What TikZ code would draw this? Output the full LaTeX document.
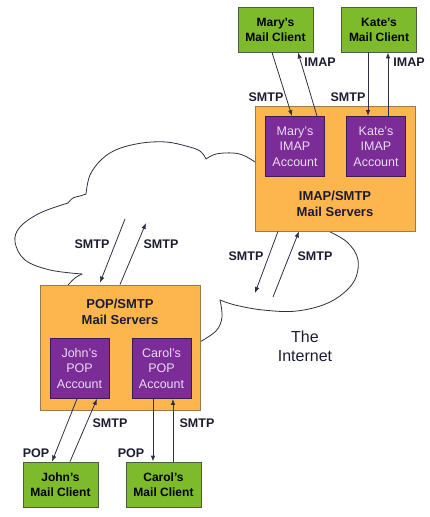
\documentclass[tikz,border=0pt]{standalone}
\usepackage{fontspec}
\setmainfont{Liberation Sans}
\usetikzlibrary{arrows.meta,calc}
\definecolor{cgreen}{HTML}{7DBA2C}
\definecolor{cgreenb}{HTML}{4E5E3C}
\definecolor{corange}{HTML}{FDB64E}
\definecolor{corangeb}{HTML}{9A7A4A}
\definecolor{cpurple}{HTML}{7B2C96}
\definecolor{cpurpleb}{HTML}{3E1A4E}
\definecolor{clav}{HTML}{E8DCF2}
\definecolor{cline}{HTML}{2E2E44}
\definecolor{ctext}{HTML}{1C1C30}
\begin{document}
\begin{tikzpicture}[x=1pt,y=-1pt,
  client/.style={draw=cgreenb, line width=0.8pt, fill=cgreen, minimum width=75pt, minimum height=45pt, inner sep=0pt, align=center, text=black, font=\bfseries\fontsize{12}{15}\selectfont},
  server/.style={draw=corangeb, line width=0.8pt, fill=corange, minimum width=160pt, minimum height=125pt, inner sep=0pt},
  srvtext/.style={align=center, text=ctext, font=\bfseries\fontsize{13}{16}\selectfont},
  acct/.style={draw=cpurpleb, line width=0.8pt, fill=cpurple, minimum width=59pt, minimum height=60pt, inner sep=0pt, align=center, text=clav, font=\fontsize{12.5}{15.5}\selectfont},
  lbl/.style={text=ctext, inner sep=0pt, font=\bfseries\fontsize{12.5}{15}\selectfont},
  arr/.style={draw=cline, line width=0.8pt, -{Latex[length=6pt,width=4.5pt]}},
  cloudline/.style={draw=cline, line width=0.8pt, line join=round, line cap=round}
]
\useasboundingbox (0,0) rectangle (430,517);

% cloud outline (drawn first, boxes cover its hidden parts)
\draw[cloudline] plot[smooth, tension=0.6] coordinates {(68,285) (75,278) (82,274)};
\draw[cloudline] plot[smooth, tension=0.6] coordinates {(82,274) (50,270) (25,260) (15,242) (20,227) (40,213) (68,203)};
\draw[cloudline] plot[smooth, tension=0.6] coordinates {(68,203) (73,198) (80,196) (86,194)};
\draw[cloudline] plot[smooth, tension=0.6] coordinates {(86,194) (90,175) (102,159) (118,149) (142,143) (166,142) (186,146) (200,151) (206,159)};
\draw[cloudline] plot[smooth, tension=0.6] coordinates {(206,159) (216,154) (233,153) (245,156) (258,164)};
\draw[cloudline] plot[smooth, tension=0.6] coordinates {(326,230) (347,242) (358,260) (353,283) (330,302) (297,311) (263,310) (235,305) (220,300)};
\draw[cloudline] plot[smooth, tension=0.6] coordinates {(220,300) (222,317) (216,331) (198,343)};

% IMAP side
\node[server] (imapsrv) at (335,168.5) {};
\node[srvtext] (imaptxt) at (335,204) {IMAP/SMTP\\Mail Servers};
\node[acct] (maryacc) at (295,146.5) {Mary's\\IMAP\\Account};
\node[acct] (kateacc) at (376,146.5) {Kate's\\IMAP\\Account};
\node[client] (marycl) at (275.5,29.5) {Mary's\\Mail Client};
\node[client] (katecl) at (379,29.5) {Kate's\\Mail Client};

% POP side
\node[server] (popsrv) at (120,347.5) {};
\node[srvtext] (poptxt) at (120,312) {POP/SMTP\\Mail Servers};
\node[acct] (johnacc) at (79.5,368.5) {John's\\POP\\Account};
\node[acct] (carolacc) at (161.5,368.5) {Carol's\\POP\\Account};
\node[client] (johncl) at (60.5,484.5) {John's\\Mail Client};
\node[client] (carolcl) at (163.5,484.5) {Carol's\\Mail Client};

% free ends in the cloud
\coordinate (c1) at (125,219);
\coordinate (c2) at (146,223);
\coordinate (c3) at (255,293);
\coordinate (c4) at (273,297);

% arrows top
\draw[arr] ([xshift=-3.5pt]marycl.south) -- ([xshift=-3pt]maryacc.north);
\draw[arr] ([xshift=22pt]maryacc.north) -- ([xshift=22.5pt]marycl.south);
\draw[arr] ([xshift=-11pt]katecl.south) -- ([xshift=-8pt]kateacc.north);
\draw[arr] ([xshift=12pt]kateacc.north) -- ([xshift=9pt]katecl.south);

% arrows middle
\draw[arr] (c1) -- ([xshift=-20pt,yshift=2pt]popsrv.north);
\draw[arr] (popsrv.north) -- (c2);
\draw[arr] ([xshift=-57pt]imapsrv.south) -- (c3);
\draw[arr] (c4) -- ([xshift=-36pt]imapsrv.south);

% arrows bottom
\draw[arr] ([xshift=-2.5pt]johnacc.south) -- ([xshift=-8.5pt]johncl.north);
\draw[arr] ([xshift=9.5pt]johncl.north) -- ([xshift=17.5pt]johnacc.south);
\draw[arr] ([xshift=-8.5pt]carolacc.south) -- ([xshift=-10.5pt]carolcl.north);
\draw[arr] ([xshift=9.5pt]carolcl.north) -- ([xshift=11.5pt]carolacc.south);

% labels
\node[lbl] (l1) at (266,97) {SMTP};
\node[lbl] (l2) at (320,62) {IMAP};
\node[lbl] (l3) at (348,97) {SMTP};
\node[lbl] (l4) at (409,62) {IMAP};
\node[lbl] (l5) at (92,244) {SMTP};
\node[lbl] (l6) at (161,244) {SMTP};
\node[lbl] (l7) at (246,256) {SMTP};
\node[lbl] (l8) at (315,256) {SMTP};
\node[lbl] (l9) at (36,453) {POP};
\node[lbl] (l10) at (110,423) {SMTP};
\node[lbl] (l11) at (131,453) {POP};
\node[lbl] (l12) at (197,423) {SMTP};
\node[align=center, text=ctext, font=\fontsize{16}{19}\selectfont] (inet) at (305,346) {The\\Internet};
\end{tikzpicture}
\end{document}
